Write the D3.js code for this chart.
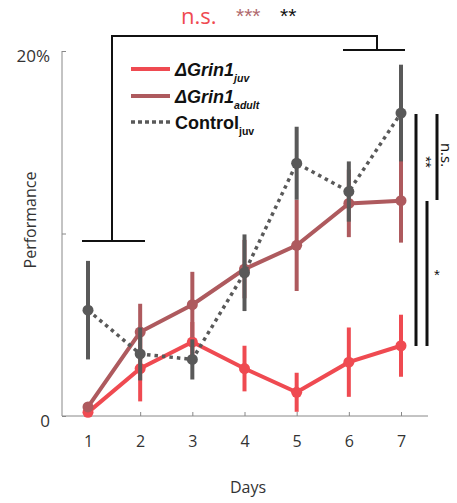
<!DOCTYPE html>
<html>
<head>
<meta charset="utf-8">
<script src="https://cdn.jsdelivr.net/npm/d3@7"></script>
<style>
  body { margin: 0; background: #fff; }
  text { font-family: "Liberation Sans", Arial, sans-serif; }
</style>
</head>
<body>
<div id="chart"></div>
<script>
var svgWidth = 457;
var svgHeight = 503;

// data (performance in %)
var days = [1, 2, 3, 4, 5, 6, 7];
var juvMean = [0.2, 2.6, 4.05, 2.6, 1.3, 2.95, 3.85];
var juvErr = [0.2, 1.8, 1.1, 1.25, 1.07, 1.9, 1.7];
var adultMean = [0.5, 4.6, 6.1, 8.05, 9.35, 11.65, 11.8];
var adultErr = [0.2, 1.55, 1.8, 1.6, 2.5, 1.85, 2.3];
var ctrlMean = [5.8, 3.4, 3.1, 7.85, 13.85, 12.3, 16.6];
var ctrlErr = [2.7, 1.45, 1.1, 2.1, 2.0, 1.65, 2.65];
var yTicks = [0, 10, 20];

var colors = { juv: "#ef4a51", adult: "#ae5a5e", ctrl: "#595959" };

var svg = d3.select("#chart")
  .append("svg")
  .attr("width", svgWidth)
  .attr("height", svgHeight);

var xScale = d3.scaleLinear().domain([1, 7]).range([88, 401]);
var yScale = d3.scaleLinear().domain([0, 20]).range([416, 51]);

// axes
var xAxis = d3.axisBottom(xScale).tickValues(days).tickSize(-4).tickPadding(20).tickFormat(d3.format("d"));
var xg = svg.append("g").attr("transform", "translate(0,416)").call(xAxis);
xg.select(".domain").attr("d", "M62,0H428").attr("stroke", "#888");
xg.selectAll(".tick line").attr("stroke", "#888");
xg.selectAll(".tick text").attr("font-size", 16).attr("fill", "#333")
  .style("font-family", "'Open Sans', sans-serif");

var yAxis = d3.axisLeft(yScale).tickValues(yTicks).tickSize(-4).tickPadding(12)
  .tickFormat(d => d === 0 ? "0" : d === 20 ? "20%" : "");
var yg = svg.append("g").attr("transform", "translate(62,0)").call(yAxis);
yg.select(".domain").attr("d", "M0,416V51").attr("stroke", "#888");
yg.selectAll(".tick line").attr("stroke", "#888");
yg.selectAll(".tick text").attr("font-size", 17).attr("fill", "#333")
  .attr("dy", "0.6em")
  .style("font-family", "'Open Sans', sans-serif");

svg.append("text")
  .attr("transform", "translate(36,220) rotate(-90)")
  .attr("text-anchor", "middle")
  .attr("font-size", 16)
  .attr("fill", "#333")
  .style("font-family", "'Open Sans', sans-serif")
  .text("Performance");

svg.append("text")
  .attr("x", 248).attr("y", 493)
  .attr("text-anchor", "middle")
  .attr("font-size", 16)
  .attr("fill", "#333")
  .style("font-family", "'Open Sans', sans-serif")
  .text("Days");

// series
function drawSeries(means, errs, color, dashed) {
  var g = svg.append("g");
  g.selectAll("line.err")
    .data(days)
    .enter()
    .append("line")
    .attr("x1", (d, i) => xScale(d))
    .attr("x2", (d, i) => xScale(d))
    .attr("y1", (d, i) => yScale(means[i] - errs[i]))
    .attr("y2", (d, i) => yScale(means[i] + errs[i]))
    .attr("stroke", color)
    .attr("stroke-width", 4);
  var line = d3.line()
    .x((d, i) => xScale(days[i]))
    .y(d => yScale(d));
  g.append("path")
    .datum(means)
    .attr("d", line)
    .attr("fill", "none")
    .attr("stroke", color)
    .attr("stroke-width", dashed ? 3.5 : 4)
    .attr("stroke-dasharray", dashed ? "3.5,4" : null);
  g.selectAll("circle")
    .data(means)
    .enter()
    .append("circle")
    .attr("cx", (d, i) => xScale(days[i]))
    .attr("cy", d => yScale(d))
    .attr("r", 5.5)
    .attr("fill", color);
}

drawSeries(juvMean, juvErr, colors.juv, false);
drawSeries(adultMean, adultErr, colors.adult, false);
drawSeries(ctrlMean, ctrlErr, colors.ctrl, true);

// legend
var legend = [
  { name: "ΔGrin1", sub: "juv", color: colors.juv, italic: true, y: 69 },
  { name: "ΔGrin1", sub: "adult", color: colors.adult, italic: true, y: 96 },
  { name: "Control", sub: "juv", color: colors.ctrl, italic: false, y: 122, dashed: true }
];
legend.forEach(function(l) {
  svg.append("line")
    .attr("x1", 131).attr("x2", 170)
    .attr("y1", l.y).attr("y2", l.y)
    .attr("stroke", l.color)
    .attr("stroke-width", l.dashed ? 3.5 : 4)
    .attr("stroke-dasharray", l.dashed ? "4,3" : null);
  var t = svg.append("text")
    .attr("x", 175).attr("y", l.y + 7)
    .attr("font-size", 18)
    .attr("font-weight", "bold")
    .attr("font-style", l.italic ? "italic" : "normal")
    .attr("fill", "#111");
  t.append("tspan").text(l.name);
  t.append("tspan").attr("dy", 6).attr("font-size", 10.5).text(l.sub);
});

// significance brackets
var br = svg.append("g").attr("stroke", "#111").attr("stroke-width", 2).attr("fill", "none");
br.append("path").attr("d", "M112,241V36H377V50");
br.append("path").attr("d", "M82,241H145");
br.append("path").attr("d", "M343,50H405");

var sig = svg.append("g").attr("stroke", "#111").attr("stroke-width", 3);
sig.append("line").attr("x1", 416).attr("x2", 416).attr("y1", 114).attr("y2", 346);
sig.append("line").attr("x1", 427).attr("x2", 427).attr("y1", 201).attr("y2", 346);
sig.append("line").attr("x1", 437).attr("x2", 437).attr("y1", 114).attr("y2", 200);

svg.append("text")
  .attr("transform", "translate(421,162) rotate(90)")
  .attr("text-anchor", "middle")
  .attr("font-size", 15).attr("fill", "#111")
  .text("**");
svg.append("text")
  .attr("transform", "translate(441,155) rotate(90)")
  .attr("text-anchor", "middle")
  .attr("font-size", 15).attr("fill", "#111")
  .style("font-family", "'Open Sans', sans-serif")
  .text("n.s.");
svg.append("text")
  .attr("x", 437).attr("y", 280)
  .attr("text-anchor", "middle")
  .attr("font-size", 15).attr("fill", "#111")
  .text("*");

svg.append("text")
  .attr("x", 181).attr("y", 24)
  .attr("font-size", 22).attr("fill", colors.juv)
  .style("font-family", "'Open Sans', sans-serif")
  .text("n.s.");
svg.append("text")
  .attr("x", 236).attr("y", 23)
  .attr("font-size", 21).attr("fill", "#b06a6e")
  .text("***");
svg.append("text")
  .attr("x", 280).attr("y", 23)
  .attr("font-size", 21).attr("fill", "#111")
  .text("**");
</script>
</body>
</html>
